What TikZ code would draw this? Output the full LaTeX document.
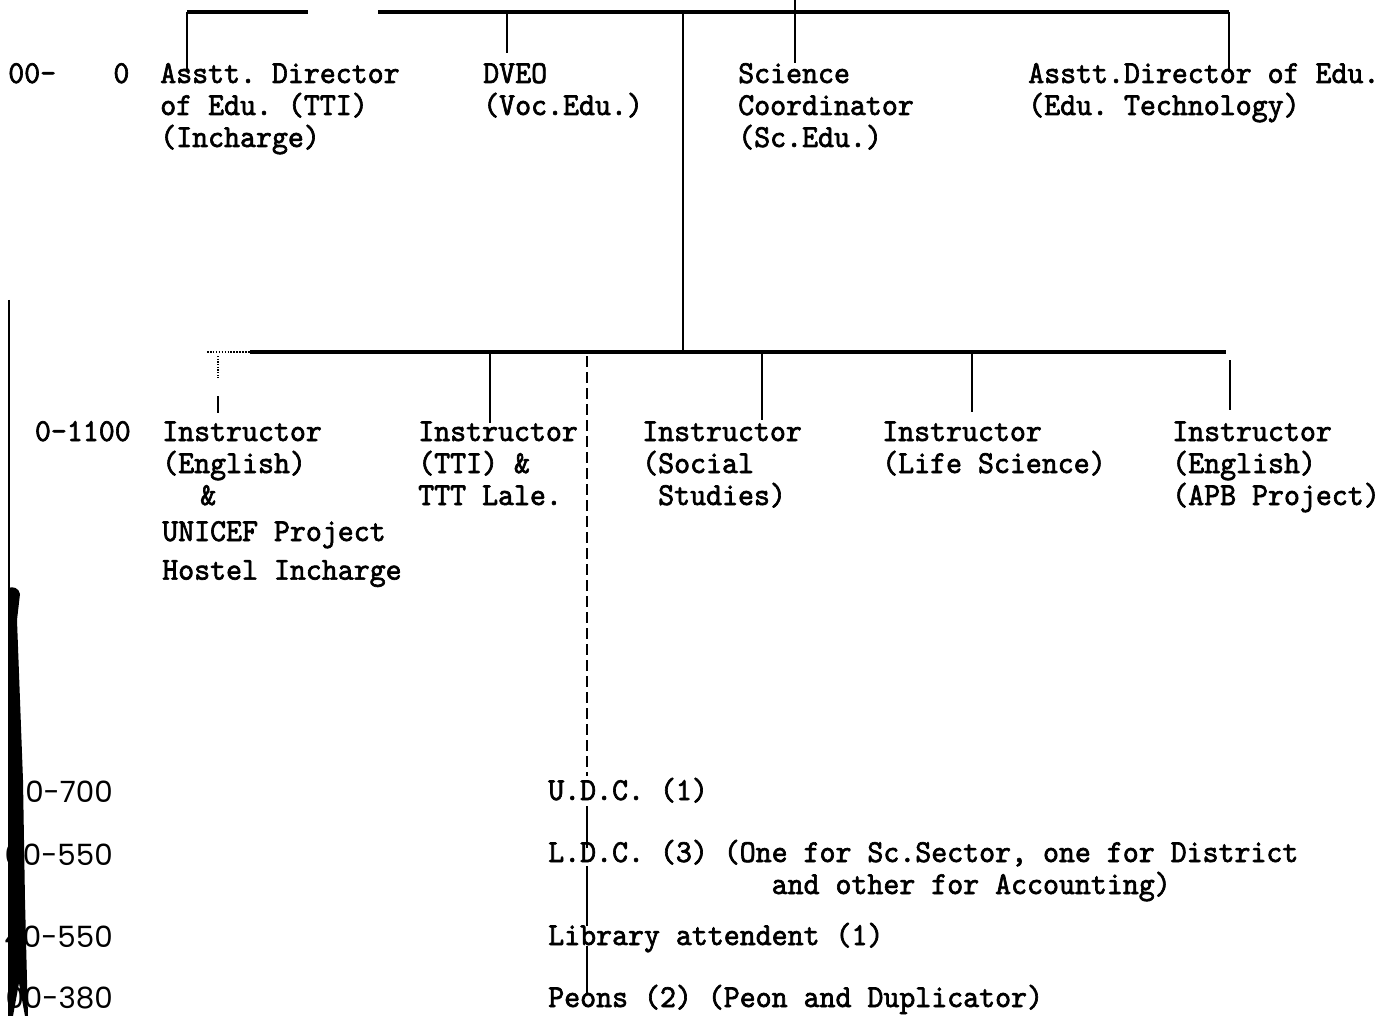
\documentclass[tikz,border=0pt]{standalone}
\usepackage{fontspec}
\newfontfamily\tw{lmmono10-regular}[Extension=.otf,FakeStretch=0.95,FakeBold=2]
\newfontfamily\payf{Poppins}
\frenchspacing
\newcommand{\lns}[1]{\begin{tabular}[t]{@{}l@{}}#1\end{tabular}}
\begin{document}
\begin{tikzpicture}[x=0.75pt,y=-0.75pt,
  txt/.style={anchor=base west,inner sep=0pt,font=\tw\fontsize{24}{24}\selectfont},
  twlab/.style={anchor=base west,inner sep=0pt,font=\tw\fontsize{24}{24}\selectfont},
  paylab/.style={anchor=base east,inner sep=0pt,font=\payf\fontsize{22}{24}\selectfont},
  bus/.style={line width=2.6pt},
  link/.style={line width=2.1pt},
  dlink/.style={line width=1.8pt,dash pattern=on 8pt off 4pt},
]
\useasboundingbox (0,0) rectangle (1396,1016);
\fill[white] (0,0) rectangle (1396,1016);

% ---- pay scale labels
\node[twlab] (p1) at (8,83) {00-\hspace{43pt}0};
\node[twlab,anchor=base east] (p2) at (131,441) {0-1100};
\node[paylab] (p3) at (113,802) {10-700};
\node[paylab] (p4) at (113,865) {60-550};
\node[paylab] (p5) at (113,947) {40-550};
\node[paylab] (p6) at (113,1008) {00-380};

% ---- first level
\node[txt] (a1) at (160,83) {\lns{Asstt. Director\\of Edu. (TTI)\\(Incharge)}};
\node[txt] (a2) at (483,83) {\lns{DVEO\\(Voc.Edu.)}};
\node[txt] (a3) at (738,83) {\lns{Science\\Coordinator\\(Sc.Edu.)}};
\node[txt] (a4) at (1028,83) {\lns{Asstt.Director of Edu.\\(Edu. Technology)}};

% ---- instructors
\node[txt] (b1) at (162,441) {\lns{Instructor\\(English)\\\hspace*{28.5pt}\&\\[3pt]UNICEF Project\\[5pt]Hostel Incharge}};
\node[txt] (b2) at (418,441) {\lns{Instructor\\(TTI) \&\\TTT Lale.}};
\node[txt] (b3) at (642,441) {\lns{Instructor\\(Social\\\hphantom{(}Studies)}};
\node[txt] (b4) at (882,441) {\lns{Instructor\\(Life Science)}};
\node[txt] (b5) at (1172,441) {\lns{Instructor\\(English)\\(APB Project)}};

% ---- office staff
\node[txt] (c1) at (548,800) {U.D.C. (1)};
\node[txt] (c2) at (548,862) {\lns{L.D.C. (3) (One for Sc.Sector, one for District\\\hphantom{L.D.C. (3) (On}and other for Accounting)}};
\node[txt] (c3) at (548,945) {Library attendent (1)};
\node[txt] (c4) at (548,1007) {Peons (2) (Peon and Duplicator)};

% ---- coordinates
\coordinate (tL) at (187,12);
\coordinate (tG1) at (308,12);
\coordinate (tG2) at (378,12);
\coordinate (tR) at (1229,12);
\coordinate (a1e) at (187,72);
\coordinate (a2s) at (507,12);
\coordinate (a2e) at (507,53);
\coordinate (up) at (795,0);
\coordinate (a3e) at (795,63);
\coordinate (a4e) at (1229,72);
\coordinate (trS) at (683,12);
\coordinate (trE) at (683,352);
\coordinate (mL) at (207,352);
\coordinate (mL2) at (250,352);
\coordinate (mR) at (1226,352);
\coordinate (b1s) at (218,356);
\coordinate (b1m) at (218,378);
\coordinate (b1n) at (218,396);
\coordinate (b1e) at (218,413);
\coordinate (b2s) at (490,352);
\coordinate (b2e) at (490,423);
\coordinate (cS) at (587,356);
\coordinate (cE) at (587,776);
\coordinate (b3s) at (762,352);
\coordinate (b3e) at (762,420);
\coordinate (b4s) at (972,352);
\coordinate (b4e) at (972,412);
\coordinate (b5s) at (1230,360);
\coordinate (b5e) at (1230,410);
\coordinate (c1e) at (587,806);
\coordinate (c2a) at (587,848);
\coordinate (c2e) at (587,866);
\coordinate (c3a) at (587,926);
\coordinate (c3e) at (587,946);
\coordinate (c4a) at (587,994);

% ---- connectors, top level
\draw[bus] (tL) -- (tG1);
\draw[bus] (tG2) -- (tR);
\draw[link] (tL) -- (a1e);
\draw[link] (a2s) -- (a2e);
\draw[link] (up) -- (a3e);
\draw[link] (tR) -- (a4e);
\draw[link] (trS) -- (trE);

% ---- instructor level
\draw[line width=1.2pt,densely dotted] (mL) -- (mL2);
\draw[bus] (mL2) -- (mR);
\draw[line width=1pt,densely dotted] (b1s) -- (b1m);
\draw[link] (b1n) -- (b1e);
\draw[link] (b2s) -- (b2e);
\draw[dlink] (cS) -- (cE);
\draw[link] (b3s) -- (b3e);
\draw[link] (b4s) -- (b4e);
\draw[link] (b5s) -- (b5e);

% ---- staff chain
\draw[link] (c1e) -- (c2a);
\draw[link] (c2e) -- (c3a);
\draw[link] (c3e) -- (c4a);

% ---- scanned page edge
\draw[line width=0.8pt] (9,300) -- (9,590);
\fill (8,588) .. controls (13,586) and (19,588) .. (20,594) -- (17,620) -- (20,700) -- (23,780) -- (25,900) -- (27,980) -- (28,1016) -- (25,1016) -- (19,983) -- (13,1016) -- (8,1016) -- cycle;
\end{tikzpicture}
\end{document}
